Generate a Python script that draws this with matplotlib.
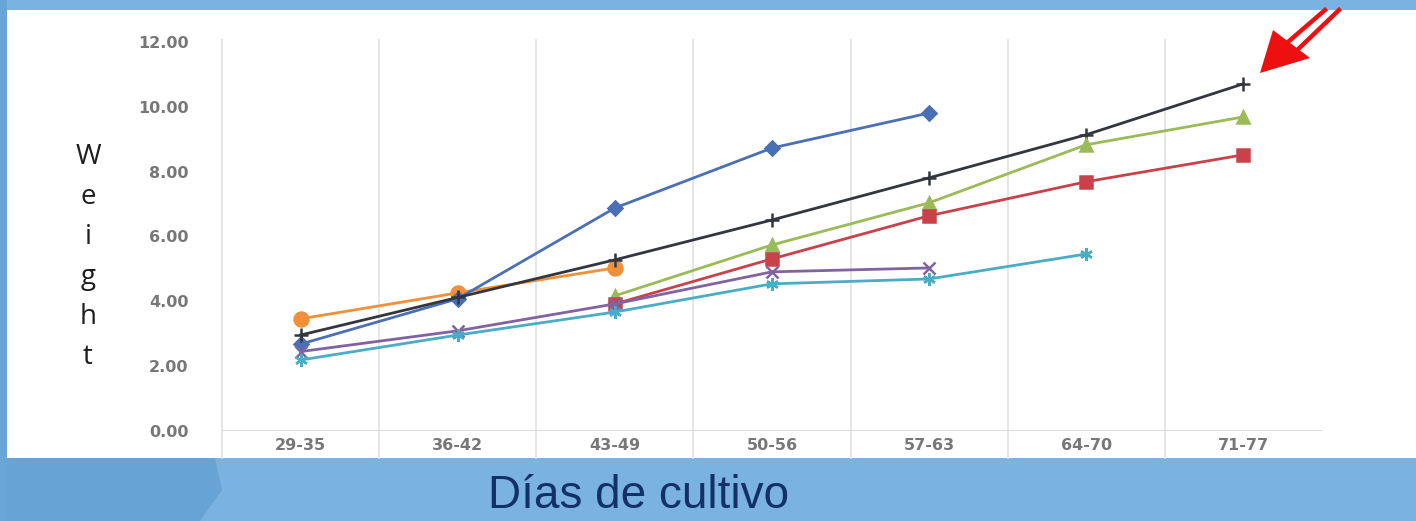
import numpy as np
import matplotlib.pyplot as plt
from matplotlib.patches import Rectangle, Polygon

# weekly ranges of culture days
periods = ["29-35", "36-42", "43-49", "50-56", "57-63", "64-70", "71-77"]

# average weight per group (nan = not sampled)
nan = np.nan
w_orange = [3.46, 4.26, 5.03, nan, nan, nan, nan]
w_blue = [2.68, 4.08, 6.88, 8.73, 9.81, nan, nan]
w_black = [2.96, 4.12, 5.28, 6.51, 7.81, 9.14, 10.71]
w_green = [nan, nan, 4.17, 5.74, 7.04, 8.83, 9.69]
w_red = [nan, nan, 3.92, 5.31, 6.64, 7.69, 8.52]
w_purple = [2.45, 3.09, 3.92, 4.91, 5.03, nan, nan]
w_cyan = [2.19, 2.96, 3.67, 4.54, 4.69, 5.46, nan]

yticks = [0, 2, 4, 6, 8, 10, 12]

BG = "#7ab3e2"
W, H = 1416, 521
fig = plt.figure(figsize=(W / 100, H / 100), dpi=100)
fig.patch.set_facecolor(BG)


def fx(px):
    return px / W


def fy(py):
    return 1 - py / H


# darker brush strokes on the lower left of the slide background
fig.patches.append(Polygon([(fx(0), fy(458)), (fx(215), fy(458)), (fx(222), fy(490)),
                            (fx(200), fy(521)), (fx(0), fy(521))], closed=True,
                           transform=fig.transFigure, fc="#68a3d6", ec="none", zorder=0))
fig.patches.append(Polygon([(fx(0), fy(0)), (fx(7), fy(0)), (fx(7), fy(521)), (fx(0), fy(521))],
                           closed=True, transform=fig.transFigure, fc="#6aa5d8", ec="none", zorder=0))

# white chart panel
fig.patches.append(Rectangle((fx(7), fy(458)), 1 - fx(7), (458 - 10) / H,
                             transform=fig.transFigure, fc="white", ec="none", zorder=1))

ax = fig.add_axes([fx(222), fy(431), 1100 / W, (431 - 42) / H])
ax.set_zorder(2)
ax.set_facecolor("none")
x = np.arange(len(periods))

series = [
    (w_orange, "#f0903a", "o", 10),
    (w_blue, "#4a6fb5", "D", 7),
    (w_black, "#33363f", "+", 10),
    (w_green, "#9bbb59", "^", 9),
    (w_red, "#c8414b", "s", 9),
    (w_purple, "#8064a2", "x", 8),
    (w_cyan, "#4bacc6", (6, 2, 0), 9),
]
for vals, col, mk, ms in series:
    ax.plot(x, vals, color=col, lw=2, marker=mk, ms=ms, mew=1.8, zorder=3)

ax.set_xlim(-0.5, len(periods) - 0.5)
ax.set_ylim(0, 12)
ax.set_yticks(yticks)
ax.set_yticklabels([f"{v:.2f}" for v in yticks])
ax.set_xticks(x)
ax.set_xticklabels(periods)
ax.tick_params(length=0, colors="#777777", labelsize=11.5)
ax.tick_params(axis="y", pad=24)
ax.tick_params(axis="x", pad=5)
for lbl in ax.get_xticklabels() + ax.get_yticklabels():
    lbl.set_fontweight("bold")
for s in ax.spines.values():
    s.set_visible(False)

# category separators and base line
ax.vlines(np.arange(len(periods)) - 0.5, -0.85, 12.1, color="#e2e2e2", lw=1.2, clip_on=False, zorder=1)
ax.hlines(0, -0.5, len(periods) - 0.5, color="#d6d6d6", lw=1.2, zorder=1)

# vertical letters of the y title
for i, ch in enumerate("Weight"):
    fig.text(fx(88), fy(157 + i * 40), ch, ha="center", va="center",
             fontsize=20, family="Open Sans", color="#1e1e1e", zorder=3)

fig.text(fx(638), fy(496), "Días de cultivo", ha="center", va="center",
         fontsize=33, family="Liberation Sans", color="#13306a", zorder=3)

# red double-line arrow pointing at the top line
RED = "#ee1010"
fig.patches.append(Polygon([(fx(1260), fy(73)), (fx(1273), fy(30)), (fx(1310), fy(58))],
                           closed=True, transform=fig.transFigure, fc=RED, ec="none", zorder=4))
for (x0, y0), x1 in [((1281, 48), 1325), ((1291, 56), 1339)]:
    fig.lines.append(plt.Line2D([fx(x0), fx(x1)], [fy(y0), fy(10)],
                                transform=fig.transFigure, color=RED, lw=3.2, zorder=4))

fig.savefig("out.png", dpi=100, facecolor=BG)
